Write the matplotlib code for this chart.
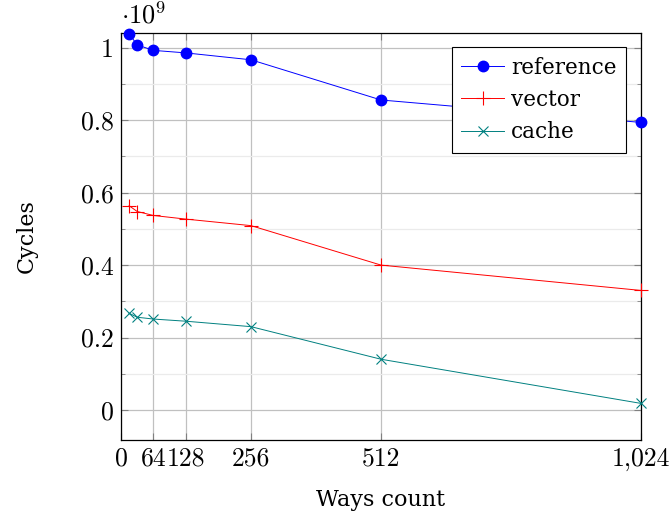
import numpy as np
import matplotlib
matplotlib.use("Agg")
from matplotlib import pyplot as plt
from matplotlib.ticker import FuncFormatter, MultipleLocator, FixedLocator

# ways count on the x axis, cycles (in units of 1e9) on the y axis
ways = [16, 32, 64, 128, 256, 512, 1024]
reference = [1.039, 1.008, 0.993, 0.986, 0.967, 0.856, 0.794]
vector = [0.564, 0.548, 0.537, 0.527, 0.509, 0.400, 0.330]
cache = [0.267, 0.256, 0.251, 0.245, 0.230, 0.140, 0.018]

xticks = [0, 64, 128, 256, 512, 1024]
yticks = [0, 0.2, 0.4, 0.6, 0.8, 1.0]

fig = plt.figure(figsize=(6.72, 5.18), dpi=100)
ax = fig.add_axes([0.180, 0.1506, 0.774, 0.7857])

ax.plot(ways, reference, color='blue', lw=0.7, marker='o', ms=7.5,
        label='reference', clip_on=False, zorder=4)
ax.plot(ways, vector, color='red', lw=0.7, marker='+', ms=10, mew=0.8,
        label='vector', clip_on=False, zorder=4)
ax.plot(ways, cache, color='teal', lw=0.7, marker='x', ms=7.5, mew=0.8,
        label='cache', clip_on=False, zorder=4)

ax.set_xlim(0, 1024)
ax.set_ylim(-0.083, 1.041)

ax.xaxis.set_major_locator(FixedLocator(xticks))
ax.yaxis.set_major_locator(FixedLocator(yticks))
ax.yaxis.set_minor_locator(MultipleLocator(0.1))

ax.xaxis.set_major_formatter(FuncFormatter(lambda v, p: f'{int(v):,}'))
ax.yaxis.set_major_formatter(FuncFormatter(lambda v, p: '0' if v == 0 else ('1' if v == 1 else f'{v:.1f}')))

ax.grid(which='major', color='#c0c0c0', lw=0.9)
ax.grid(which='minor', axis='y', color='#ebebeb', lw=0.9)
ax.set_axisbelow(True)

ax.tick_params(which='both', direction='in', top=True, right=True, color='#808080')
ax.tick_params(which='major', length=5, width=0.8, labelsize=18.5, pad=5)
ax.tick_params(which='minor', length=3, width=0.6)
for lab in ax.get_xticklabels() + ax.get_yticklabels():
    lab.set_fontfamily('cmr10')
for s in ax.spines.values():
    s.set_linewidth(0.9)

ax.text(0.0, 1.008, r'$\cdot 10^{9}$', transform=ax.transAxes, fontsize=19,
        ha='left', va='bottom', math_fontfamily='cm')

ax.set_xlabel('Ways count', fontsize=16, family='DejaVu Serif', labelpad=13)
ax.set_ylabel('Cycles', fontsize=16, family='DejaVu Serif', labelpad=31)

leg = ax.legend(loc='upper right', bbox_to_anchor=(0.971, 0.966), borderaxespad=0,
                fancybox=False, edgecolor='black', framealpha=1,
                prop={'family': 'DejaVu Serif', 'size': 15.5},
                handlelength=2.0, handletextpad=0.3, borderpad=0.45, labelspacing=0.48)
leg.get_frame().set_linewidth(0.8)

fig.savefig('out.png', dpi=100)
